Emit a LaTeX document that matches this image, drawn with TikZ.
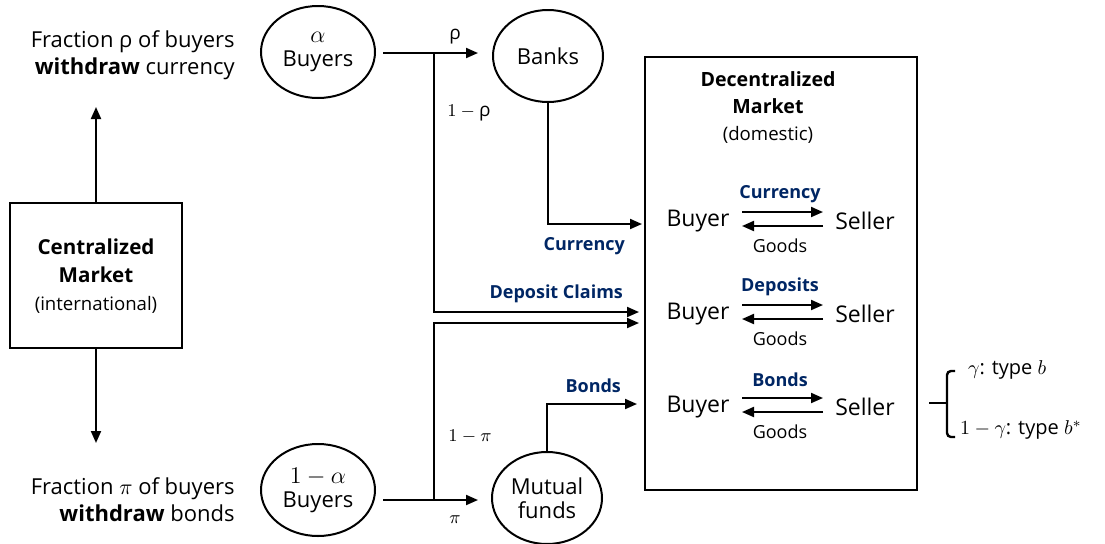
\documentclass[tikz,border=0pt]{standalone}
\usepackage{fontspec}
\setmainfont{Open Sans}
\usetikzlibrary{arrows.meta,shapes.geometric}
\definecolor{navy}{RGB}{0,38,100}
\begin{document}
\begin{tikzpicture}[x=0.5pt,y=-0.5pt,
  ln/.style={line width=1pt},
  arr/.style={line width=1pt,-{Triangle[length=6pt,width=5pt]}},
  ell/.style={draw,ellipse,line width=1pt,inner sep=0pt,minimum width=57pt,minimum height=46pt,align=center,font=\fontsize{11}{14}\selectfont},
  boxx/.style={draw,line width=1.2pt,inner sep=0pt},
  side/.style={align=right,anchor=east,inner sep=0pt,font=\fontsize{11}{13.5}\selectfont},
  big/.style={font=\fontsize{11.5}{14}\selectfont},
  small/.style={font=\fontsize{9}{11}\selectfont},
  lab/.style={font=\fontsize{9}{11}\selectfont\bfseries,text=navy},
  mlab/.style={font=\fontsize{9.5}{11}\selectfont}]
\useasboundingbox (0,0) rectangle (1105,543);

% left side
\node[side] (ftop) at (235,55) {Fraction ρ of buyers\\\textbf{withdraw} currency};
\node[side] (fbot) at (235,500) {Fraction $\pi$ of buyers\\\textbf{withdraw} bonds};
\node[boxx,minimum width=86pt,minimum height=72.5pt] (cm) at (96,275.5) {};
\node[align=center,font=\fontsize{10.3}{14}\selectfont] (cmt) at (96,276) {\textbf{Centralized}\\\textbf{Market}\\{\fontsize{9.3}{12}\selectfont(international)}};
\coordinate (upEnd) at (96,107);
\coordinate (dnEnd) at (96,443);
\draw[arr] (cm.north) -- (upEnd);
\draw[arr] (cm.south) -- (dnEnd);

% ellipses
\node[ell] (ab) at (318,52) {\large$\alpha$\\[-2pt]Buyers};
\node[ell,minimum width=55pt] (bk) at (548,56) {Banks};
\node[ell] (ab2) at (318,490) {\large$1-\alpha$\\[-2pt]Buyers};
\node[ell,minimum width=55pt] (mf) at (547,498) {Mutual\\[-2pt]funds};

% decentralized market
\node[boxx,minimum width=136pt,minimum height=216.5pt] (dm) at (781,273.5) {};
\node[align=center,font=\fontsize{9.8}{13.5}\selectfont] (dmt) at (768,108) {\textbf{Decentralized}\\\textbf{Market}\\{\fontsize{9.3}{12}\selectfont(domestic)}};

% flows
\coordinate (s1) at (383,53);
\coordinate (j1) at (434,53);
\coordinate (rt) at (478,53);
\coordinate (cIn) at (642,224);
\coordinate (dIn) at (639,312);
\coordinate (s2) at (383,500);
\coordinate (j2) at (434,500);
\coordinate (pt) at (478,500);
\coordinate (d2In) at (639,323);
\coordinate (bIn) at (637,404);
\draw[arr] (s1) -- (rt);
\draw[arr] (j1) |- (dIn);
\draw[arr] (bk.south) |- (cIn);
\draw[arr] (s2) -- (pt);
\draw[arr] (j2) |- (d2In);
\draw[arr] (mf.north) |- (bIn);
\node[mlab] (lrho) at (455,37) {ρ};
\node[mlab] (l1rho) at (469,113) {$1-{}$ρ};
\node[mlab] (lpi) at (455,520) {$\pi$};
\node[mlab] (l1pi) at (470,437) {$1-\pi$};
\node[lab,anchor=east] (lcur) at (632,246) {Currency};
\node[lab,anchor=east] (ldep) at (630,294) {Deposit Claims};
\node[lab,anchor=east] (lbon) at (628,386) {Bonds};

% market rows
\foreach \y/\t/\n in {219/Currency/1,312/Deposits/2,405/Bonds/3}{
  \node[big] (b\n) at (698,\y+2) {Buyer};
  \node[big] (s\n) at (865,\y+2) {Seller};
  \draw[arr] (742,\y-7) -- (823,\y-7);
  \draw[arr] (823,\y+7) -- (742,\y+7);
  \node[lab] (t\n) at (780,\y-25) {\t};
  \node[small] (g\n) at (780,\y+27) {Goods};
}

% brace
\draw[line width=1.2pt,rounded corners=2pt] (955,371) -- (947,371) -- (947,437) -- (955,437);
\draw[line width=1.2pt] (947,403) -- (929,403);
\node[anchor=west,font=\fontsize{10}{12}\selectfont] (g1) at (961,370) {$\gamma$: type $b$};
\node[anchor=west,font=\fontsize{10}{12}\selectfont] (g2) at (953,430) {$1-\gamma$: type $b^{*}$};
\end{tikzpicture}
\end{document}
